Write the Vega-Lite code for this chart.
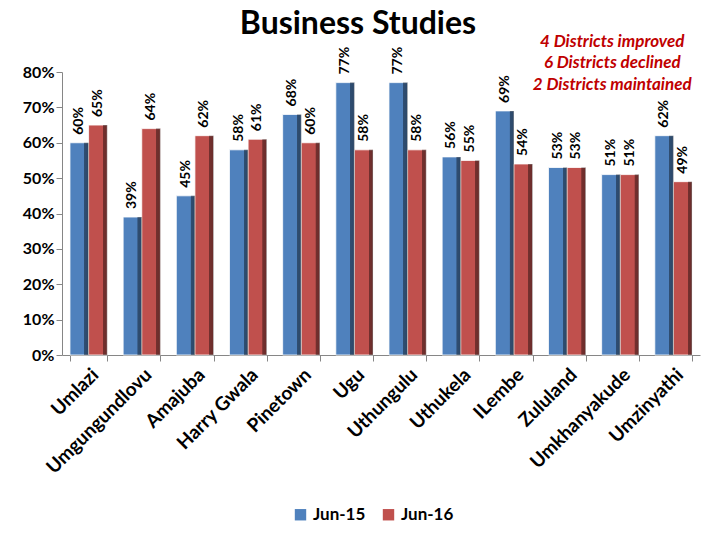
{
  "$schema": "https://vega.github.io/schema/vega-lite/v6.json",
  "autosize": "none",
  "width": 638,
  "height": 283,
  "padding": {"left": 62, "top": 72, "right": 20, "bottom": 185},
  "background": "white",
  "config": {"view": {"stroke": null}, "font": "Lato"},
  "title": {"text": "Business Studies", "fontSize": 32, "fontWeight": "bold", "font": "Lato", "color": "black", "anchor": "middle", "dx": -23, "frame": "group", "offset": 8, "dy": 16},
  "datasets": {
    "scores": [
      {"district": "Umlazi", "year": "Jun-15", "pct": 0.60},
      {"district": "Umlazi", "year": "Jun-16", "pct": 0.65},
      {"district": "Umgungundlovu", "year": "Jun-15", "pct": 0.39},
      {"district": "Umgungundlovu", "year": "Jun-16", "pct": 0.64},
      {"district": "Amajuba", "year": "Jun-15", "pct": 0.45},
      {"district": "Amajuba", "year": "Jun-16", "pct": 0.62},
      {"district": "Harry Gwala", "year": "Jun-15", "pct": 0.58},
      {"district": "Harry Gwala", "year": "Jun-16", "pct": 0.61},
      {"district": "Pinetown", "year": "Jun-15", "pct": 0.68},
      {"district": "Pinetown", "year": "Jun-16", "pct": 0.60},
      {"district": "Ugu", "year": "Jun-15", "pct": 0.77},
      {"district": "Ugu", "year": "Jun-16", "pct": 0.58},
      {"district": "Uthungulu", "year": "Jun-15", "pct": 0.77},
      {"district": "Uthungulu", "year": "Jun-16", "pct": 0.58},
      {"district": "Uthukela", "year": "Jun-15", "pct": 0.56},
      {"district": "Uthukela", "year": "Jun-16", "pct": 0.55},
      {"district": "ILembe", "year": "Jun-15", "pct": 0.69},
      {"district": "ILembe", "year": "Jun-16", "pct": 0.54},
      {"district": "Zululand", "year": "Jun-15", "pct": 0.53},
      {"district": "Zululand", "year": "Jun-16", "pct": 0.53},
      {"district": "Umkhanyakude", "year": "Jun-15", "pct": 0.51},
      {"district": "Umkhanyakude", "year": "Jun-16", "pct": 0.51},
      {"district": "Umzinyathi", "year": "Jun-15", "pct": 0.62},
      {"district": "Umzinyathi", "year": "Jun-16", "pct": 0.49}
    ],
    "notes": [
      {"district": "Umkhanyakude", "line": "4 Districts improved", "pos": 0.885},
      {"district": "Umkhanyakude", "line": "6 Districts declined", "pos": 0.825},
      {"district": "Umkhanyakude", "line": "2 Districts maintained", "pos": 0.763}
    ]
  },
  "layer": [
    {
      "data": {"name": "scores"},
      "mark": {"type": "bar", "stroke": "white", "strokeWidth": 0.8},
      "encoding": {
        "x": {"field": "district", "type": "nominal", "sort": null,
              "scale": {"paddingInner": 0.3, "paddingOuter": 0.15},
              "axis": {"title": null, "labelAngle": -45, "labelFontSize": 19, "labelFontWeight": "bold", "labelColor": "black", "labelFont": "Lato",
                       "domainColor": "#868686", "tickColor": "#868686", "tickBand": "extent", "tickSize": 6, "labelPadding": 4}},
        "xOffset": {"field": "year", "type": "nominal", "scale": {"paddingInner": 0}},
        "y": {"field": "pct", "type": "quantitative", "scale": {"domain": [0, 0.8]},
              "axis": {"title": null, "format": ".0%", "values": [0, 0.1, 0.2, 0.3, 0.4, 0.5, 0.6, 0.7, 0.8], "tickCount": 20, "labelOverlap": false, "grid": false,
                       "labelFontSize": 16, "labelFontWeight": "bold", "labelColor": "black", "labelFont": "Lato",
                       "domainColor": "#868686", "tickColor": "#868686", "tickSize": 6}},
        "color": {"field": "year", "type": "nominal",
                  "scale": {"domain": ["Jun-15", "Jun-16"], "range": ["#4f81bd", "#c0504d"]},
                  "legend": {"title": null, "orient": "none", "legendX": 230, "legendY": 434, "direction": "horizontal",
                             "symbolType": "square", "symbolSize": 130, "labelFontSize": 17, "labelFontWeight": "bold", "labelColor": "black",
                             "labelFont": "Lato", "columnPadding": 14, "symbolStrokeWidth": 0}}
      }
    },
    {
      "data": {"name": "scores"},
      "mark": {"type": "bar", "fill": {"gradient": "linear", "x1": 0, "x2": 1, "y1": 0, "y2": 0,
               "stops": [{"offset": 0, "color": "rgba(0,0,0,0)"}, {"offset": 0.76, "color": "rgba(0,0,0,0)"}, {"offset": 0.78, "color": "rgba(0,0,0,0.4)"}, {"offset": 1, "color": "rgba(0,0,0,0.45)"}]}},
      "encoding": {
        "x": {"field": "district", "type": "nominal", "sort": null},
        "xOffset": {"field": "year", "type": "nominal"},
        "y": {"field": "pct", "type": "quantitative"}
      }
    },
    {
      "data": {"name": "scores"},
      "mark": {"type": "text", "angle": -90, "align": "left", "baseline": "middle", "dx": 8, "fontSize": 14, "fontWeight": "bold", "color": "black", "font": "Lato"},
      "encoding": {
        "x": {"field": "district", "type": "nominal", "sort": null},
        "xOffset": {"field": "year", "type": "nominal"},
        "y": {"field": "pct", "type": "quantitative"},
        "text": {"field": "pct", "type": "quantitative", "format": ".0%"}
      }
    },
    {
      "data": {"name": "notes"},
      "mark": {"type": "text", "align": "center", "baseline": "middle", "fontSize": 17, "fontWeight": "bold", "fontStyle": "italic", "color": "#c00000", "font": "Lato", "dx": -8},
      "encoding": {
        "x": {"field": "district", "type": "nominal", "sort": null},
        "y": {"field": "pos", "type": "quantitative"},
        "text": {"field": "line"}
      }
    }
  ]
}
